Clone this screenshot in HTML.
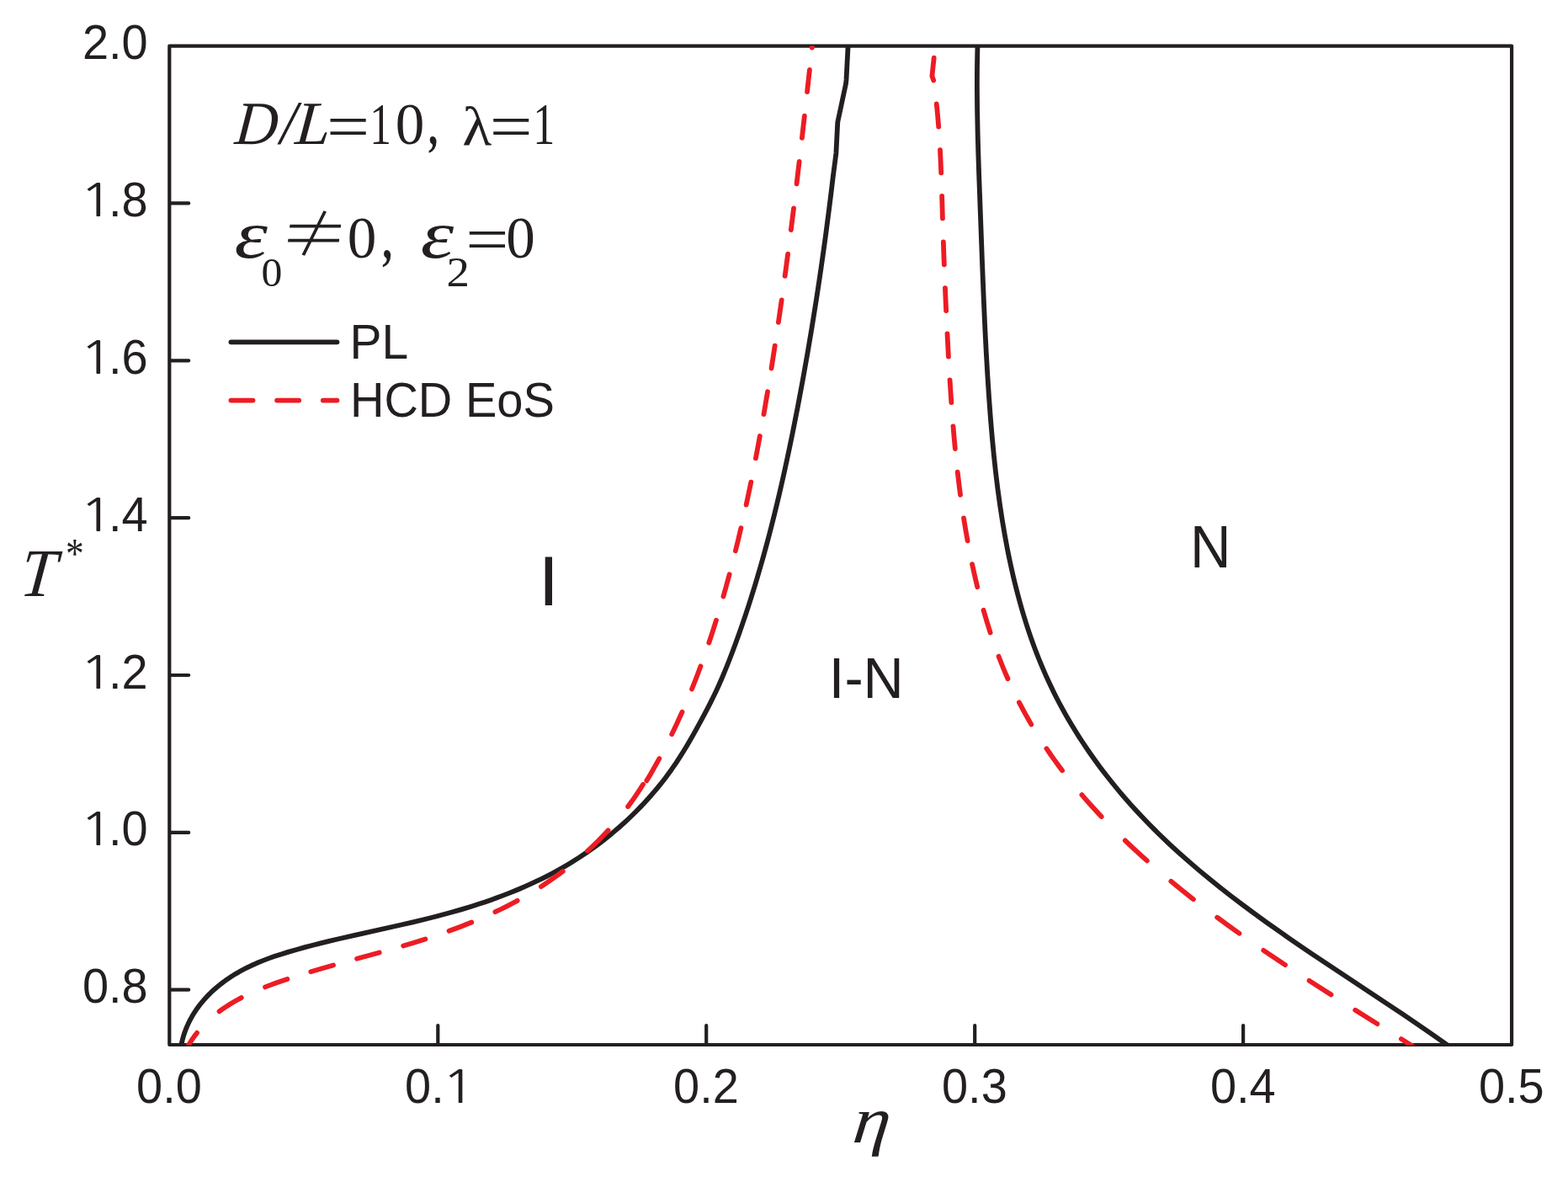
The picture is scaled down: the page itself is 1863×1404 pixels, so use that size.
<!DOCTYPE html>
<html lang="en">
<head>
<meta charset="utf-8">
<title>Phase diagram</title>
<style>html,body{margin:0;padding:0;background:#fff}body{width:1863px;height:1404px;overflow:hidden}svg{display:block}</style>
</head>
<body>
<svg width="1863" height="1404" viewBox="0 0 1863 1404">
<style>text{fill:#231f20;font-kerning:none;white-space:pre}.a{font-family:'Liberation Sans', Arial, Helvetica, sans-serif}.b{font-family:'Liberation Serif', 'Times New Roman', Times, serif}.c{font-family:'Liberation Serif', 'Times New Roman', Times, serif;font-style:italic}.d{font-family:'DejaVu Serif', serif;font-style:italic}.e{font-family:'Liberation Serif', 'Times New Roman', Times, serif;font-weight:bold}.f{font-family:'Noto Serif CJK SC', 'Liberation Serif', serif}.g{font-family:NanumGothic, 'Liberation Sans', sans-serif}</style>
<rect width="1863" height="1404" fill="#fff"/>
<defs><clipPath id="cp"><rect x="201.3" y="54.6" width="1594.8" height="1186.7"/></clipPath></defs>
<g fill="none" stroke="#231f20" stroke-width="4.2" stroke-linecap="round" stroke-linejoin="round">
<rect x="201.3" y="54.6" width="1594.8" height="1186.4"/>
<path d="M202.3 241.4 h21.9 M202.3 428.3 h21.9 M202.3 615.2 h21.9 M202.3 802.0 h21.9 M202.3 988.9 h21.9 M202.3 1175.7 h21.9 M520.3 1240.0 v-21.9 M839.2 1240.0 v-21.9 M1158.2 1240.0 v-21.9 M1477.1 1240.0 v-21.9"/>
</g>
<g clip-path="url(#cp)" fill="none" stroke-linecap="round" stroke-linejoin="round" stroke-width="5.8">
<path stroke="#231f20" d="M215.50 1240.82 L216.10 1237.94 L217.03 1234.15 L218.08 1230.42 L219.27 1226.75 L220.59 1223.14 L222.02 1219.59 L223.58 1216.10 L225.25 1212.68 L227.03 1209.32 L228.92 1206.02 L230.92 1202.79 L233.01 1199.63 L235.20 1196.53 L237.49 1193.49 L239.87 1190.53 L242.96 1186.92 L245.52 1184.12 L248.16 1181.38 L250.88 1178.71 L254.38 1175.48 L257.25 1172.97 L260.93 1169.94 L263.94 1167.59 L267.78 1164.74 L270.92 1162.55 L274.91 1159.90 L278.15 1157.86 L282.26 1155.40 L285.59 1153.51 L289.80 1151.24 L294.06 1149.07 L298.37 1147.01 L304.46 1144.27 L311.51 1141.35 L318.64 1138.63 L325.85 1136.08 L334.02 1133.40 L342.24 1130.87 L352.34 1127.94 L362.47 1125.15 L371.69 1122.72 L380.94 1120.37 L391.13 1117.88 L402.26 1115.24 L422.70 1110.58 L475.74 1098.79 L490.61 1095.35 L504.53 1092.01 L519.34 1088.26 L534.11 1084.30 L547.91 1080.35 L560.72 1076.45 L568.92 1073.82 L576.18 1071.40 L583.40 1068.90 L590.60 1066.31 L597.76 1063.64 L604.88 1060.88 L611.96 1058.03 L618.12 1055.46 L625.12 1052.42 L631.21 1049.69 L638.11 1046.46 L644.11 1043.55 L650.07 1040.55 L655.98 1037.47 L661.85 1034.30 L667.67 1031.04 L673.43 1027.69 L678.34 1024.75 L688.03 1018.65 L697.55 1012.28 L703.03 1008.44 L707.68 1005.08 L713.04 1001.08 L717.59 997.58 L726.53 990.40 L735.28 982.98 L743.81 975.32 L748.69 970.74 L752.81 966.76 L756.87 962.72 L760.87 958.62 L764.82 954.47 L768.70 950.27 L772.52 946.01 L776.28 941.70 L779.97 937.34 L783.60 932.92 L787.16 928.45 L790.64 923.92 L794.06 919.35 L797.41 914.71 L803.35 906.08 L807.52 899.69 L811.57 893.23 L816.02 885.88 L820.37 878.45 L825.57 869.31 L831.61 858.43 L836.61 849.17 L841.06 840.70 L844.53 833.89 L847.91 827.04 L851.19 820.14 L854.36 813.19 L857.43 806.21 L860.41 799.18 L863.66 791.24 L866.81 783.25 L870.55 773.45 L874.52 762.72 L878.38 751.95 L882.15 741.15 L885.82 730.31 L889.69 718.54 L893.16 707.64 L896.83 695.80 L900.39 683.92 L903.86 672.02 L907.23 660.09 L910.51 648.13 L913.70 636.14 L917.04 623.20 L920.29 610.24 L923.45 597.25 L926.53 584.24 L929.52 571.21 L932.64 557.23 L935.67 543.23 L938.63 529.21 L941.70 514.24 L947.80 483.33 L953.77 451.45 L959.46 419.52 L964.86 387.56 L970.12 354.61 L972.99 335.75 L975.77 316.88 L978.46 298.00 L981.06 279.09 L984.90 249.74 L987.38 229.83 L989.77 209.90 L993.40 182.00 L995.00 150.00 L995.30 145.00 L1004.90 100.00 L1005.50 95.00 L1007.60 54.50"/>
<path stroke="#231f20" d="M1161.48 54.51 L1161.21 65.97 L1161.01 78.39 L1160.90 90.81 L1160.88 103.24 L1161.09 129.06 L1161.64 157.76 L1162.36 183.60 L1163.40 214.21 L1167.04 312.62 L1168.84 357.47 L1170.25 388.95 L1171.76 418.52 L1173.36 446.20 L1175.05 471.98 L1176.82 495.85 L1178.74 518.77 L1180.84 540.72 L1183.00 560.72 L1185.43 580.69 L1188.03 599.65 L1190.77 617.62 L1193.81 635.53 L1196.97 652.43 L1198.67 660.86 L1200.44 669.27 L1202.29 677.66 L1204.23 686.03 L1206.25 694.38 L1208.12 701.78 L1210.31 710.09 L1212.34 717.46 L1214.70 725.72 L1216.89 733.04 L1219.16 740.34 L1221.51 747.61 L1223.96 754.85 L1226.49 762.06 L1229.11 769.24 L1231.83 776.38 L1234.64 783.49 L1237.17 789.68 L1240.16 796.71 L1242.86 802.83 L1246.03 809.79 L1248.89 815.84 L1252.24 822.71 L1255.26 828.69 L1258.80 835.48 L1262.44 842.21 L1265.70 848.07 L1269.51 854.71 L1273.42 861.30 L1277.41 867.85 L1281.49 874.34 L1285.66 880.78 L1289.92 887.16 L1294.25 893.49 L1298.66 899.77 L1303.16 905.99 L1307.72 912.16 L1312.95 919.02 L1317.67 925.07 L1322.47 931.05 L1327.33 936.98 L1332.88 943.58 L1337.88 949.38 L1343.58 955.83 L1348.71 961.50 L1354.55 967.80 L1359.80 973.34 L1365.78 979.50 L1371.15 984.91 L1377.25 990.94 L1383.42 996.89 L1389.65 1002.78 L1395.94 1008.61 L1402.29 1014.37 L1413.71 1024.45 L1425.31 1034.36 L1437.06 1044.09 L1449.70 1054.26 L1462.50 1064.25 L1476.21 1074.67 L1490.05 1084.92 L1504.80 1095.59 L1517.31 1104.47 L1530.69 1113.80 L1544.13 1123.04 L1559.23 1133.28 L1586.37 1151.43 L1651.12 1194.32 L1667.00 1204.96 L1682.01 1215.11 L1696.93 1225.35 L1710.18 1234.58 L1722.56 1243.34 L1734.83 1252.20"/>
<path stroke="#ed1c24" d="M764.06 931.73 L759.84 938.41 L755.38 945.12 L750.87 951.58 L746.12 958.06 M722.60 986.34 L716.79 992.53 L710.72 998.71 L704.51 1004.74 L698.06 1010.75 M668.76 1035.02 L662.45 1039.68 L656.06 1044.23 L649.59 1048.66 L642.90 1053.07 M614.70 1069.85 L608.38 1073.25 L601.86 1076.63 L595.14 1079.98 L588.38 1083.23 M560.28 1095.56 L547.22 1100.74 L533.58 1105.81 M505.39 1115.41 L492.60 1119.43 L479.13 1123.48 M450.70 1131.56 L424.08 1138.82 M396.04 1146.50 L382.04 1150.47 L369.30 1154.20 M341.41 1162.96 L334.07 1165.44 L327.39 1167.78 L321.04 1170.11 L315.05 1172.40 M286.76 1185.09 L279.66 1188.95 L272.88 1192.96 L266.56 1197.06 L263.54 1199.16 L260.56 1201.33 M233.98 1226.90 L231.58 1230.03 L229.36 1233.12 L227.12 1236.44 L225.06 1239.71 L223.07 1243.08 L221.17 1246.54 L219.35 1250.10 L217.61 1253.76"/>
<path stroke="#ed1c24" d="M768.29 927.35 L772.10 920.92 L775.95 914.26 L783.30 901.04 M798.16 872.17 L804.44 859.00 L810.47 845.74 M822.01 818.50 L827.35 804.97 L832.49 791.35 M842.33 763.47 L846.68 750.30 L851.01 736.64 M859.41 708.49 L863.05 695.58 L866.69 682.18 M873.85 654.38 L877.16 640.89 L880.41 627.15 M886.61 599.58 L889.48 586.21 L892.31 572.60 M897.90 544.41 L902.86 517.98 M907.45 492.19 L912.03 465.24 M916.53 437.57 L920.73 410.57 M924.87 382.87 L928.69 356.30 M932.62 327.88 L936.11 301.73 M939.81 273.05 L943.02 247.34 M946.53 218.39 L949.65 191.96 M952.89 163.91 L955.85 137.69 M959.03 109.16 L961.92 82.91 M964.78 56.66 L967.68 29.94"/>
<path stroke="#ed1c24" d="M1109.70 68.60 L1107.40 90.30 L1109.20 95.43 M1112.75 123.49 L1114.05 136.65 L1115.21 150.52 M1116.98 178.10 L1117.62 191.10 L1118.21 205.27 M1119.14 232.93 L1119.93 259.41 M1120.85 287.49 L1121.83 314.39 M1122.95 342.19 L1124.15 369.06 M1125.49 396.40 L1126.94 423.54 M1128.57 451.39 L1130.32 478.09 M1132.47 506.40 L1133.62 519.85 L1134.84 533.06 M1137.71 560.58 L1139.34 574.43 L1141.05 587.80 M1145.03 615.37 L1147.26 629.11 L1149.59 642.36 M1155.06 670.11 L1158.05 683.70 L1161.26 697.24 M1168.55 724.84 L1172.54 738.44 L1176.66 751.52 M1186.53 779.60 L1189.22 786.54 L1191.90 793.22 L1194.68 799.87 L1197.45 806.27 M1210.89 834.35 L1214.34 840.93 L1217.89 847.47 L1221.52 853.95 L1225.36 860.58 M1243.45 889.23 L1247.91 895.74 L1252.59 902.36 L1257.22 908.74 L1262.08 915.24 M1285.37 944.11 L1290.99 950.61 L1296.70 957.03 L1302.64 963.56 L1308.66 970.02 M1336.84 998.41 L1343.09 1004.34 L1349.56 1010.37 L1356.09 1016.34 L1362.85 1022.41 M1391.31 1046.79 L1404.46 1057.51 L1417.93 1068.19 M1446.19 1089.69 L1459.09 1099.16 L1472.47 1108.76 M1501.22 1128.78 L1513.90 1137.38 L1527.02 1146.15 M1555.56 1164.86 L1581.55 1181.55 M1610.20 1199.71 L1636.36 1216.17 M1664.88 1234.11 L1690.01 1250.01"/>
</g>
<g fill="none" stroke-linecap="round" stroke-width="5.8">
<path stroke="#231f20" d="M274.4 406.3 H400.5"/>
<path stroke="#ed1c24" d="M274.4 475.6 h26.1 M329.1 475.6 h26.1 M383.8 475.6 H400.5"/>
</g>
<text class="a" transform="translate(175.70 70.10) scale(0.9850 1.0000)" font-size="56.80" text-anchor="end">2.0</text>
<g><text class="g" transform="translate(94.13 256.95) scale(1.2505 1.0000)" font-size="53.90">1</text><text class="a" transform="translate(175.70 256.95) scale(0.9850 1.0000)" font-size="56.80" text-anchor="end">.8</text></g>
<g><text class="g" transform="translate(94.13 443.80) scale(1.2505 1.0000)" font-size="53.90">1</text><text class="a" transform="translate(175.70 443.80) scale(0.9850 1.0000)" font-size="56.80" text-anchor="end">.6</text></g>
<g><text class="g" transform="translate(94.13 630.65) scale(1.2505 1.0000)" font-size="53.90">1</text><text class="a" transform="translate(175.70 630.65) scale(0.9850 1.0000)" font-size="56.80" text-anchor="end">.4</text></g>
<g><text class="g" transform="translate(94.13 817.50) scale(1.2505 1.0000)" font-size="53.90">1</text><text class="a" transform="translate(175.70 817.50) scale(0.9850 1.0000)" font-size="56.80" text-anchor="end">.2</text></g>
<g><text class="g" transform="translate(94.13 1004.35) scale(1.2505 1.0000)" font-size="53.90">1</text><text class="a" transform="translate(175.70 1004.35) scale(0.9850 1.0000)" font-size="56.80" text-anchor="end">.0</text></g>
<text class="a" transform="translate(175.70 1191.20) scale(0.9850 1.0000)" font-size="56.80" text-anchor="end">0.8</text>
<text class="a" transform="translate(162.11 1310.00) scale(0.9850 1.0000)" font-size="56.80">0.0</text>
<g><text class="a" transform="translate(481.07 1310.00) scale(0.9850 1.0000)" font-size="56.80">0.</text><text class="g" transform="translate(524.60 1310.00) scale(1.2505 1.0000)" font-size="53.90">1</text></g>
<text class="a" transform="translate(800.03 1310.00) scale(0.9850 1.0000)" font-size="56.80">0.2</text>
<text class="a" transform="translate(1118.99 1310.00) scale(0.9850 1.0000)" font-size="56.80">0.3</text>
<text class="a" transform="translate(1437.95 1310.00) scale(0.9850 1.0000)" font-size="56.80">0.4</text>
<text class="a" transform="translate(1756.91 1310.00) scale(0.9850 1.0000)" font-size="56.80">0.5</text>
<g><text class="c" transform="translate(22.57 708.00) skewX(-5.71) scale(0.7593 0.8110)" font-size="100.00">T</text><text class="b" transform="translate(77.88 673.57) scale(0.4339 0.5127)" font-size="100.00">*</text></g>
<text class="c" transform="translate(1011.73 1357.13) skewX(-6.28) scale(0.8890 0.7859)" font-size="100.00">η</text>
<g><text class="c" transform="translate(278.09 170.96) skewX(-4.86) scale(0.7031 0.7278)" font-size="100.00">D</text><text class="c" transform="translate(332.66 171.07) scale(0.7327 0.7474)" font-size="100.00">/</text><text class="c" transform="translate(349.77 171.00) skewX(-4.86) scale(0.7404 0.7285)" font-size="100.00">L</text><text class="b" transform="translate(387.98 176.00) scale(0.9069 0.7680)" font-size="100.00">=</text><text class="b" transform="translate(439.28 171.00) scale(0.5141 0.7013)" font-size="100.00">1</text><text class="b" transform="translate(469.77 171.03) scale(0.6913 0.6906)" font-size="100.00">0</text><text class="e" transform="translate(508.91 171.95) scale(0.4478 0.6495)" font-size="100.00">, </text><text class="b" transform="translate(549.30 171.80) scale(0.7217 0.6519)" font-size="100.00">λ</text><text class="b" transform="translate(581.80 176.00) scale(0.9026 0.7680)" font-size="100.00">=</text><text class="b" transform="translate(633.13 171.10) scale(0.5198 0.6953)" font-size="100.00">1</text></g>
<g><text class="c" transform="translate(278.55 305.91) scale(1.0011 0.8046)" font-size="100.00">ε</text><text class="b" transform="translate(310.40 340.22) scale(0.4978 0.4935)" font-size="100.00">0</text><text class="f" transform="translate(326.55 308.17) skewX(-6.84) scale(0.8686 0.8416)" font-size="100.00">≠</text><text class="b" transform="translate(412.77 305.83) scale(0.6913 0.6876)" font-size="100.00">0</text><text class="e" transform="translate(454.18 307.23) scale(0.4680 0.6827)" font-size="100.00">, </text><text class="c" transform="translate(499.85 305.91) scale(1.0011 0.8046)" font-size="100.00">ε</text><text class="b" transform="translate(530.59 340.30) scale(0.5488 0.4969)" font-size="100.00">2</text><text class="b" transform="translate(553.27 309.65) scale(0.9090 0.7560)" font-size="100.00">=</text><text class="b" transform="translate(601.37 305.83) scale(0.6913 0.6876)" font-size="100.00">0</text></g>
<text class="a" transform="translate(415.43 425.70) scale(0.5695 0.5741)" font-size="100.00">PL</text>
<text class="a" transform="translate(415.90 494.64) scale(0.5606 0.5720)" font-size="100.00">HCD EoS</text>
<text class="a" transform="translate(639.59 719.30) scale(0.8900 0.8270)" font-size="100.00">I</text>
<text class="a" transform="translate(1413.99 673.50) scale(0.6713 0.7006)" font-size="100.00">N</text>
<text class="a" transform="translate(984.85 829.30) scale(0.6669 0.6817)" font-size="100.00">I-N</text>
</svg>
</body>
</html>
